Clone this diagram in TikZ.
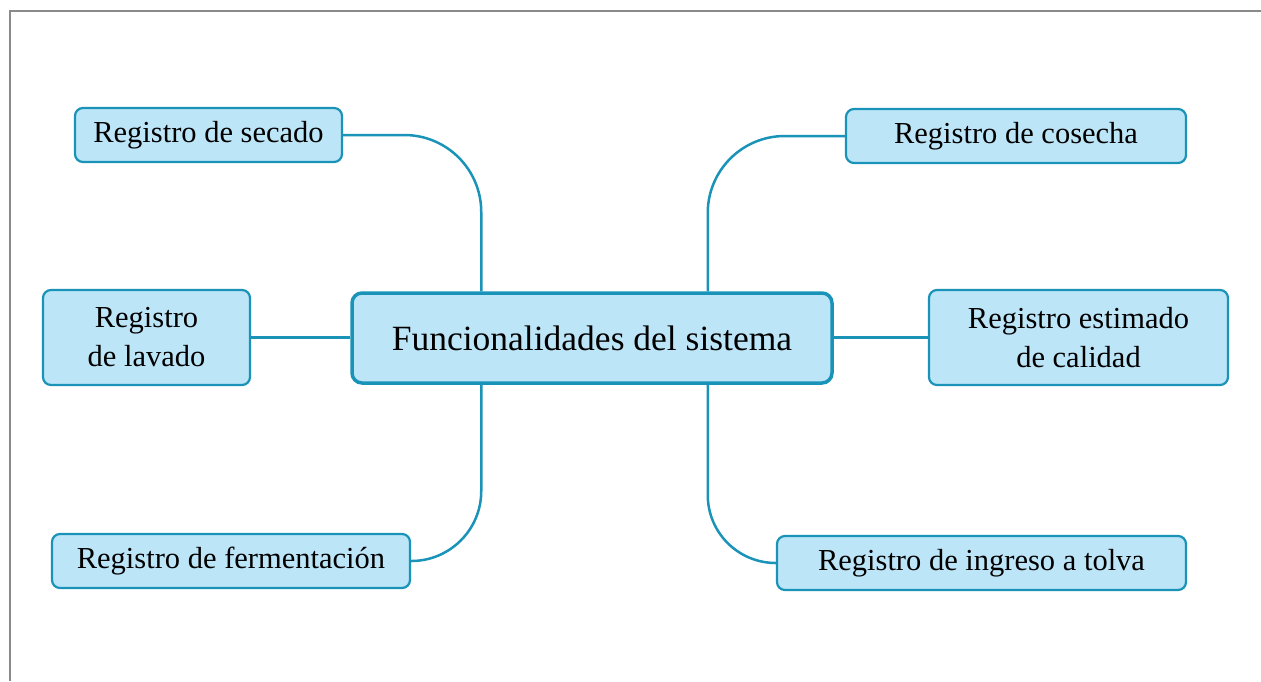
\documentclass[tikz,border=0pt]{standalone}
\usepackage{fontspec}
\setmainfont{Liberation Serif}
\definecolor{boxfill}{HTML}{BDE5F8}
\definecolor{boxline}{HTML}{1A93B9}
\definecolor{framegray}{HTML}{8A8A8A}
\tikzset{
  topic/.style={draw=boxline, fill=boxfill, line width=2.2pt, rounded corners=8pt,
    inner sep=0pt, align=center, font=\fontsize{30.5}{39}\selectfont, text=black},
  maintopic/.style={draw=boxline, fill=boxfill, line width=3.5pt, rounded corners=10pt,
    inner sep=0pt, align=center, font=\fontsize{35.5}{40}\selectfont, text=black},
  conn/.style={draw=boxline, line width=2.5pt},
}
\begin{document}
\begin{tikzpicture}[x=1pt,y=-1pt]
\useasboundingbox (0,0) rectangle (1261,681);
\draw[framegray, line width=1.5pt] (10,681) -- (10,11) -- (1261,11);

\node[maintopic, minimum width=480pt, minimum height=90pt] (center) at (592,338) {Funcionalidades del sistema};

\node[topic, minimum width=267pt, minimum height=54pt] (secado) at (208.5,135) {Registro de secado};
\node[topic, minimum width=207pt, minimum height=95pt] (lavado) at (146.5,337.5) {Registro\\de lavado};
\node[topic, minimum width=358pt, minimum height=54pt] (ferm) at (231,561) {Registro de fermentación};
\node[topic, minimum width=340pt, minimum height=54pt] (cosecha) at (1016,136) {Registro de cosecha};
\node[topic, minimum width=299pt, minimum height=95pt] (calidad) at (1078.5,337.5) {Registro estimado\\de calidad};
\node[topic, minimum width=409pt, minimum height=54pt] (tolva) at (981.5,563) {Registro de ingreso a tolva};

\draw[conn, rounded corners=77pt] (secado.east) -| ([xshift=131pt]center.north west);
\draw[conn] (lavado.east) -- (lavado.east -| center.west);
\draw[conn, rounded corners=70pt] (ferm.east) -| ([xshift=131pt]center.south west);
\draw[conn, rounded corners=77pt] (cosecha.west) -| ([xshift=-126pt]center.north east);
\draw[conn] (center.east |- calidad.west) -- (calidad.west);
\draw[conn, rounded corners=68pt] (tolva.west) -| ([xshift=-126pt]center.south east);
\end{tikzpicture}
\end{document}
